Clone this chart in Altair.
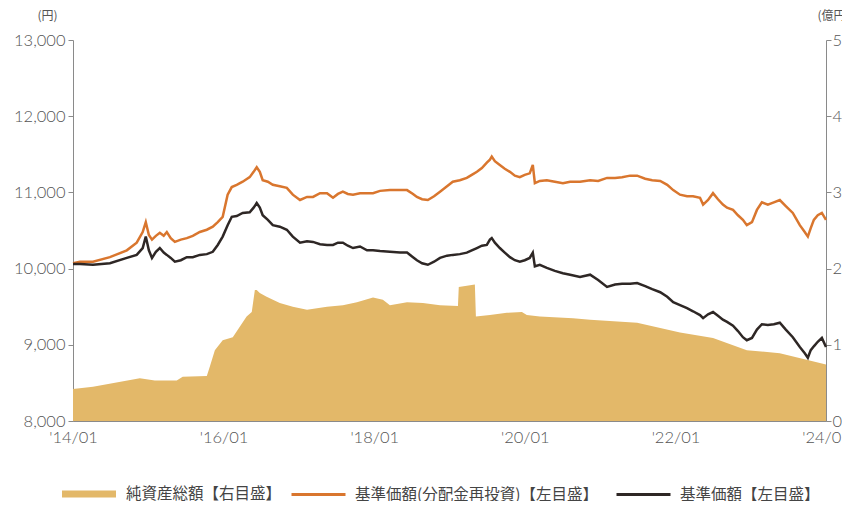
import altair as alt
import pandas as pd

# ---------------- data ----------------
nav_dates = [
    "2014-01-01", "2014-02-04", "2014-04-08", "2014-06-29", "2014-09-19", "2014-11-06",
    "2014-12-05", "2014-12-20", "2015-01-04", "2015-01-19", "2015-02-07", "2015-02-26",
    "2015-03-17", "2015-04-01", "2015-04-20", "2015-05-10", "2015-06-08", "2015-07-07",
    "2015-08-05", "2015-09-08", "2015-10-12", "2015-11-10", "2015-12-04", "2015-12-28",
    "2016-01-21", "2016-02-10", "2016-03-05", "2016-04-03", "2016-05-07", "2016-05-26",
    "2016-06-10", "2016-06-25", "2016-07-09", "2016-08-03", "2016-08-27", "2016-09-30",
    "2016-11-03", "2016-12-02", "2017-01-06", "2017-02-09", "2017-03-10", "2017-04-13",
    "2017-05-17", "2017-06-15", "2017-07-09", "2017-08-02", "2017-08-26", "2017-09-20",
    "2017-10-24", "2017-11-27", "2017-12-26", "2018-01-29", "2018-03-18", "2018-05-06",
    "2018-06-09", "2018-07-08", "2018-07-27", "2018-08-21", "2018-09-18", "2018-10-18",
    "2018-11-16", "2018-12-20", "2019-01-17", "2019-02-20", "2019-03-26", "2019-04-19",
    "2019-05-14", "2019-06-07", "2019-07-01", "2019-07-16", "2019-07-25", "2019-08-09",
    "2019-09-02", "2019-09-26", "2019-10-21", "2019-11-14", "2019-12-08", "2020-01-01",
    "2020-01-25", "2020-02-09", "2020-02-19", "2020-03-14", "2020-04-17", "2020-05-26",
    "2020-07-04", "2020-08-08", "2020-09-25", "2020-11-13", "2020-12-22", "2021-02-03",
    "2021-03-14", "2021-04-17", "2021-05-26", "2021-06-29", "2021-08-07", "2021-09-10",
    "2021-10-19", "2021-11-22", "2021-12-21", "2022-01-23", "2022-02-26", "2022-03-27",
    "2022-04-30", "2022-05-15", "2022-06-08", "2022-07-02", "2022-07-26", "2022-08-19",
    "2022-09-08", "2022-10-07", "2022-10-31", "2022-11-24", "2022-12-13", "2023-01-07",
    "2023-01-31", "2023-02-24", "2023-03-25", "2023-04-23", "2023-05-22", "2023-06-20",
    "2023-07-24", "2023-08-27", "2023-09-20", "2023-10-05", "2023-10-19", "2023-11-03",
    "2023-11-22", "2023-12-12", "2024-01-01",
]

nav_reinvested = [
    10070, 10090, 10090, 10150, 10240, 10340,
    10480, 10610, 10440, 10380, 10430, 10470,
    10430, 10480, 10400, 10350, 10380, 10400,
    10430, 10480, 10510, 10550, 10610, 10680,
    10970, 11070, 11100, 11140, 11200, 11270,
    11330, 11270, 11160, 11140, 11100, 11080,
    11060, 10970, 10900, 10940, 10940, 10990,
    10990, 10930, 10980, 11010, 10980, 10970,
    10990, 10990, 10990, 11020, 11030, 11030,
    11030, 10980, 10940, 10910, 10900, 10950,
    11010, 11080, 11140, 11160, 11190, 11230,
    11270, 11320, 11390, 11430, 11470, 11410,
    11360, 11310, 11270, 11220, 11200, 11230,
    11250, 11360, 11120, 11150, 11160, 11140,
    11120, 11140, 11140, 11160, 11150, 11190,
    11190, 11200, 11220, 11220, 11180, 11160,
    11150, 11100, 11030, 10970, 10950, 10950,
    10930, 10840, 10900, 10990, 10910, 10840,
    10800, 10770, 10700, 10640, 10570, 10610,
    10770, 10870, 10840, 10870, 10900, 10820,
    10730, 10570, 10480, 10420, 10530, 10640,
    10700, 10730, 10640,
]

nav_base = [
    10060, 10060, 10050, 10070, 10140, 10180,
    10270, 10420, 10240, 10140, 10220, 10270,
    10210, 10180, 10140, 10090, 10110, 10150,
    10150, 10180, 10190, 10220, 10310, 10420,
    10570, 10680, 10690, 10730, 10740, 10800,
    10860, 10800, 10700, 10640, 10570, 10550,
    10510, 10420, 10340, 10360, 10350, 10320,
    10310, 10310, 10340, 10340, 10300, 10270,
    10290, 10240, 10240, 10230, 10220, 10210,
    10210, 10150, 10110, 10070, 10050, 10090,
    10140, 10170, 10180, 10190, 10210, 10240,
    10270, 10300, 10310, 10380, 10400, 10340,
    10270, 10210, 10150, 10110, 10090, 10110,
    10140, 10210, 10030, 10050, 10010, 9970,
    9940, 9920, 9890, 9920, 9850, 9760,
    9790, 9800, 9800, 9810, 9770, 9730,
    9690, 9630, 9560, 9520, 9480, 9440,
    9390, 9350, 9400, 9430, 9380, 9330,
    9300, 9250, 9180, 9100, 9060, 9090,
    9200, 9270, 9260, 9270, 9290, 9200,
    9100, 8970, 8890, 8830, 8930, 8980,
    9040, 9090, 8970,
]

asset_dates = [
    "2014-01-01", "2014-04-08", "2014-11-21", "2015-02-02", "2015-05-19", "2015-06-17",
    "2015-10-12", "2015-10-26", "2015-11-20", "2015-12-28", "2016-02-15", "2016-04-22",
    "2016-05-17", "2016-06-01", "2016-06-10", "2016-06-25", "2016-07-28", "2016-09-30",
    "2016-12-02", "2017-02-09", "2017-05-17", "2017-08-02", "2017-10-09", "2017-12-26",
    "2018-02-12", "2018-03-18", "2018-06-09", "2018-08-25", "2018-11-16", "2019-02-11",
    "2019-02-15", "2019-05-04", "2019-05-09", "2019-07-16", "2019-10-06", "2019-12-18",
    "2020-01-11", "2020-03-14", "2020-08-22", "2020-11-13", "2021-06-29", "2022-01-23",
    "2022-07-02", "2022-12-13", "2023-05-22", "2024-01-01",
]
asset_values = [
    4.2, 4.5, 5.6, 5.3, 5.3, 5.8,
    5.9, 7.1, 9.3, 10.6, 11.0, 13.7,
    14.3, 17.2, 17.2, 16.8, 16.3, 15.5,
    15.0, 14.6, 15.0, 15.2, 15.6, 16.2,
    15.9, 15.2, 15.6, 15.5, 15.2, 15.1,
    17.6, 17.9, 13.7, 13.9, 14.2, 14.3,
    13.9, 13.7, 13.5, 13.3, 12.9, 11.6,
    10.9, 9.3, 8.9, 7.4,
]

S_AREA = "純資産総額【右目盛】"
S_RE = "基準価額(分配金再投資)【左目盛】"
S_NAV = "基準価額【左目盛】"

left_ticks = [8000, 9000, 10000, 11000, 12000, 13000]
right_ticks = [0, 10, 20, 30, 40, 50]
tick_years = [2014, 2016, 2018, 2020, 2022, 2024]

# ---------------- styling ----------------
TAN = "#E3B869"
ORANGE = "#D9762E"
DARK = "#2E2725"
GRAY = "#8A8A8A"
LABEL = "#555555"
NUM_FONT = "Lato"
CJK_FONT = "Noto Sans CJK JP"
LEG_SIZE = 15.5

nav_long = pd.concat([
    pd.DataFrame({"date": nav_dates, "value": nav_reinvested, "series": S_RE}),
    pd.DataFrame({"date": nav_dates, "value": nav_base, "series": S_NAV}),
], ignore_index=True)
asset_df = pd.DataFrame({"date": asset_dates, "value": asset_values, "series": S_AREA})

x_domain = [alt.DateTime(year=2014, month=1, date=1, utc=True),
            alt.DateTime(year=2024, month=1, date=1, utc=True)]
x_values = [alt.DateTime(year=y, month=1, date=1, utc=True) for y in tick_years]
x_scale = alt.Scale(type="utc", domain=x_domain)
yl_scale = alt.Scale(domain=[8000, 13000])
yr_scale = alt.Scale(domain=[0, 50])

area = alt.Chart(asset_df).mark_area(opacity=1).encode(
    x=alt.X("date:T", scale=x_scale, axis=None),
    y=alt.Y("value:Q", scale=yr_scale, axis=alt.Axis(
        orient="right", values=right_ticks, ticks=True, tickSize=5, tickColor=GRAY,
        grid=False, domainColor=GRAY, domainWidth=1, labelPadding=1,
        labelFont=NUM_FONT, labelFontSize=16.5, labelColor=LABEL, labelFontWeight=300,
        title="(億円)", titleAngle=0, titleX=-9, titleY=-25, titleAlign="left",
        titleBaseline="middle", titleFont=CJK_FONT, titleFontSize=12,
        titleFontWeight="normal", titleColor=LABEL)),
    fill=alt.Fill("series:N", scale=alt.Scale(domain=[S_AREA], range=[TAN]),
                  legend=alt.Legend(
                      orient="none", legendX=-11, legendY=427, direction="horizontal",
                      title=None, symbolType="M-1,-0.13H1V0.13H-1Z", symbolSize=2916,
                      symbolStrokeWidth=0, symbolOpacity=1,
                      labelFont=CJK_FONT, labelFontSize=LEG_SIZE, labelColor="#444444",
                      labelOffset=10, padding=0, labelLimit=400)),
)

lines = alt.Chart(nav_long).mark_line(strokeWidth=2.5).encode(
    x=alt.X("date:T", scale=x_scale, axis=alt.Axis(
        orient="bottom", values=x_values, format="'%y/%m", ticks=False, tickSize=0,
        grid=False, domainColor=GRAY, domainWidth=1, labelPadding=8,
        labelFont=NUM_FONT, labelFontSize=16.5, labelColor=LABEL, labelFontWeight=300,
        labelFlush=False, title=None)),
    y=alt.Y("value:Q", scale=yl_scale, axis=alt.Axis(
        orient="left", values=left_ticks, format=",d", ticks=True, tickSize=5,
        tickColor=GRAY, grid=False, domainColor=GRAY, domainWidth=1, labelPadding=3,
        labelFont=NUM_FONT, labelFontSize=16.5, labelColor=LABEL, labelFontWeight=300,
        title="(円)", titleAngle=0, titleX=-26, titleY=-25, titleAlign="center",
        titleBaseline="middle", titleFont=CJK_FONT, titleFontSize=12,
        titleFontWeight="normal", titleColor=LABEL)),
    stroke=alt.Stroke("series:N", scale=alt.Scale(domain=[S_RE, S_NAV], range=[ORANGE, DARK]),
                      legend=alt.Legend(
                          orient="none", legendX=217, legendY=426, direction="horizontal",
                          title=None, symbolType="stroke", symbolSize=2916,
                          symbolStrokeWidth=3, symbolOpacity=1, columnPadding=12,
                          labelFont=CJK_FONT, labelFontSize=LEG_SIZE, labelColor="#444444",
                          labelOffset=8, padding=0, labelLimit=400)),
    order=alt.Order("date:T"),
)

# inward tick marks on the time axis (axis offset into the plot, ticks only)
x_ticks_layer = alt.Chart(nav_long).mark_line(strokeOpacity=0).encode(
    x=alt.X("date:T", scale=x_scale, axis=alt.Axis(
        orient="bottom", offset=-5, values=x_values, labels=False, domain=False,
        ticks=True, tickSize=5, tickColor=GRAY, grid=False, title=None)),
    y=alt.Y("value:Q", scale=yl_scale, axis=None),
    detail="series:N",
)

chart = alt.layer(area, lines, x_ticks_layer).resolve_scale(
    x="independent", y="independent"
).properties(
    width=753, height=381,
    autosize=alt.AutoSizeParams(type="none"),
    padding={"left": 65, "top": 32, "right": 16, "bottom": 80},
    background="white",
).configure_view(stroke=None)

chart.save("out.html", embed_options={"renderer": "svg", "actions": False})
